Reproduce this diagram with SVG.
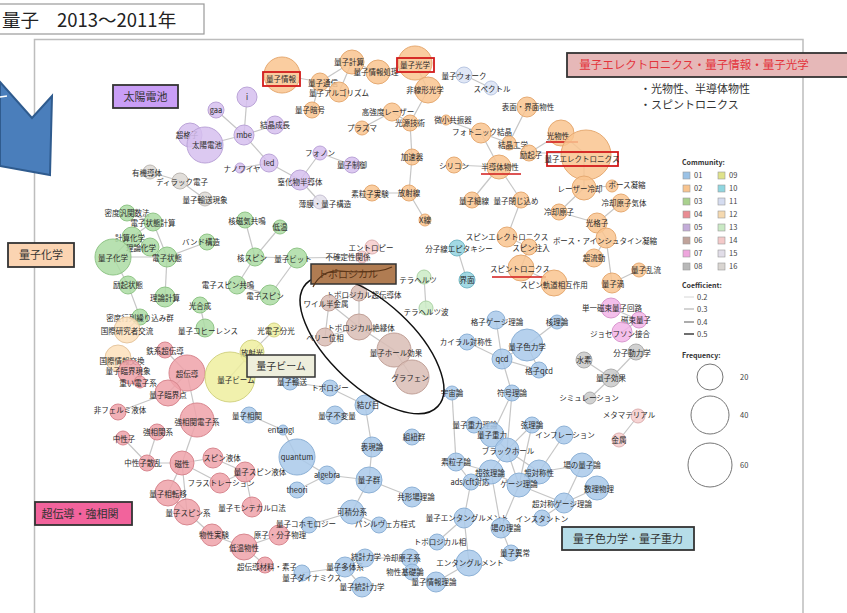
<svg xmlns="http://www.w3.org/2000/svg" width="847" height="613" viewBox="0 0 847 613">
<style>
.e{stroke:#c6c6c6;stroke-width:1.2;fill:none}
circle{stroke-width:1;fill-opacity:.85}
.c1{fill:#a9c9ea;stroke:#8db1d6}
.c2{fill:#f9c48f;stroke:#e6aa72}
.c3{fill:#acdca3;stroke:#90c587}
.c4{fill:#eea2a9;stroke:#d8878f}
.c5{fill:#d6c0ef;stroke:#bba4d8}
.c6{fill:#d9bdb5;stroke:#c1a198}
.c7{fill:#f2b4e8;stroke:#d998cf}
.c8{fill:#c9c9c9;stroke:#adadad}
.c9{fill:#eeee9f;stroke:#d3d383}
.c10{fill:#92d2df;stroke:#76b8c6}
.c11{fill:#dbe3f5;stroke:#b9c6e2}
.c12{fill:#fde0bb;stroke:#e6c69f}
.c13{fill:#cbebc5;stroke:#add3a6}
.c14{fill:#f6cccc;stroke:#ddb0b0}
.c15{fill:#e3dfeb;stroke:#c7c1d3}
.c16{fill:#dcd8d4;stroke:#bdb8b3}
text{font-family:"Noto Sans CJK JP","Noto Sans",sans-serif}
.l{font-size:7.5px;fill:#2a2a2a;text-anchor:middle}
.bx{stroke:#333;stroke-width:1.8}
.bt{font-size:11px;fill:#333;text-anchor:middle}
.rb{fill:none;stroke:#d21b1b;stroke-width:1.8}
.ru{stroke:#d21b1b;stroke-width:1.6}
.lg{font-size:7.5px;fill:#444}
.sq{stroke:#999;stroke-width:.6}
</style>
<rect width="847" height="613" fill="#fff"/>
<!-- frame -->
<path d="M34.5,613 V39.5 H803 V613" fill="none" stroke="#bdbdbd" stroke-width="1.5"/>
<rect x="-2" y="4" width="206" height="30" fill="#fff" stroke="#9a9a9a" stroke-width="1.2"/>
<text x="2" y="27" style="font-size:18.5px;fill:#222">量子</text>
<text x="57" y="27" style="font-size:18.5px;fill:#222">2013〜2011年</text>
<!-- blue arrow -->
<polygon points="0,82 32,118 52,96 50,175 0,166" fill="#4a7ebb" stroke="#2f5b8e" stroke-width="2"/>
<line x1="0" y1="97" x2="7" y2="96" stroke="#fff" stroke-width="1.5"/>

<g id="connectors">
<line class="e" x1="282" y1="75" x2="320" y2="82"/>
<line class="e" x1="320" y1="82" x2="352" y2="62"/>
<line class="e" x1="352" y1="62" x2="339" y2="92"/>
<line class="e" x1="320" y1="82" x2="339" y2="92"/>
<line class="e" x1="352" y1="62" x2="378" y2="72"/>
<line class="e" x1="378" y1="72" x2="415" y2="63"/>
<line class="e" x1="320" y1="82" x2="312" y2="110"/>
<line class="e" x1="415" y1="63" x2="428" y2="90"/>
<line class="e" x1="428" y1="90" x2="410" y2="123"/>
<line class="e" x1="392" y1="112" x2="410" y2="123"/>
<line class="e" x1="392" y1="112" x2="362" y2="128"/>
<line class="e" x1="410" y1="123" x2="412" y2="157"/>
<line class="e" x1="412" y1="157" x2="409" y2="193"/>
<line class="e" x1="409" y1="193" x2="372" y2="193"/>
<line class="e" x1="409" y1="193" x2="425" y2="220"/>
<line class="e" x1="446" y1="120" x2="481" y2="133"/>
<line class="e" x1="481" y1="133" x2="509" y2="143"/>
<line class="e" x1="481" y1="133" x2="499" y2="167"/>
<line class="e" x1="509" y1="143" x2="527" y2="107"/>
<line class="e" x1="509" y1="143" x2="529" y2="153"/>
<line class="e" x1="529" y1="153" x2="561" y2="133"/>
<line class="e" x1="561" y1="133" x2="584" y2="153"/>
<line class="e" x1="529" y1="153" x2="584" y2="153"/>
<line class="e" x1="454" y1="165" x2="499" y2="167"/>
<line class="e" x1="499" y1="167" x2="472" y2="200"/>
<line class="e" x1="499" y1="167" x2="521" y2="200"/>
<line class="e" x1="521" y1="200" x2="507" y2="237"/>
<line class="e" x1="507" y1="237" x2="529" y2="247"/>
<line class="e" x1="529" y1="247" x2="521" y2="268"/>
<line class="e" x1="521" y1="268" x2="554" y2="283"/>
<line class="e" x1="584" y1="153" x2="584" y2="188"/>
<line class="e" x1="584" y1="188" x2="559" y2="212"/>
<line class="e" x1="584" y1="188" x2="612" y2="186"/>
<line class="e" x1="621" y1="203" x2="597" y2="223"/>
<line class="e" x1="559" y1="212" x2="597" y2="223"/>
<line class="e" x1="597" y1="223" x2="606" y2="238"/>
<line class="e" x1="606" y1="238" x2="594" y2="258"/>
<line class="e" x1="606" y1="238" x2="612" y2="283"/>
<line class="e" x1="612" y1="283" x2="639" y2="270"/>
<line class="e" x1="464" y1="75" x2="491" y2="88"/>
<line class="e" x1="457" y1="248" x2="467" y2="280"/>
<line class="e" x1="424" y1="277" x2="426" y2="308"/>
<line class="e" x1="127" y1="213" x2="153" y2="222"/>
<line class="e" x1="153" y1="222" x2="167" y2="257"/>
<line class="e" x1="132" y1="237" x2="113" y2="257"/>
<line class="e" x1="150" y1="247" x2="113" y2="257"/>
<line class="e" x1="132" y1="237" x2="150" y2="247"/>
<line class="e" x1="113" y1="257" x2="167" y2="257"/>
<line class="e" x1="167" y1="257" x2="207" y2="242"/>
<line class="e" x1="153" y1="222" x2="132" y2="237"/>
<line class="e" x1="113" y1="257" x2="128" y2="285"/>
<line class="e" x1="128" y1="285" x2="140" y2="317"/>
<line class="e" x1="165" y1="297" x2="167" y2="257"/>
<line class="e" x1="140" y1="317" x2="127" y2="330"/>
<line class="e" x1="245" y1="220" x2="255" y2="257"/>
<line class="e" x1="280" y1="227" x2="255" y2="257"/>
<line class="e" x1="255" y1="257" x2="297" y2="258"/>
<line class="e" x1="255" y1="257" x2="237" y2="285"/>
<line class="e" x1="297" y1="258" x2="270" y2="295"/>
<line class="e" x1="237" y1="285" x2="270" y2="295"/>
<line class="e" x1="297" y1="258" x2="362" y2="257"/>
<line class="e" x1="205" y1="328" x2="200" y2="305"/>
<line class="e" x1="216" y1="110" x2="244" y2="135"/>
<line class="e" x1="247" y1="97" x2="244" y2="135"/>
<line class="e" x1="205" y1="145" x2="244" y2="135"/>
<line class="e" x1="190" y1="135" x2="205" y2="145"/>
<line class="e" x1="244" y1="135" x2="275" y2="125"/>
<line class="e" x1="244" y1="135" x2="269" y2="163"/>
<line class="e" x1="240" y1="168" x2="269" y2="163"/>
<line class="e" x1="269" y1="163" x2="300" y2="180"/>
<line class="e" x1="300" y1="180" x2="320" y2="153"/>
<line class="e" x1="320" y1="153" x2="352" y2="165"/>
<line class="e" x1="300" y1="180" x2="320" y2="202"/>
<line class="e" x1="150" y1="172" x2="180" y2="181"/>
<line class="e" x1="180" y1="181" x2="205" y2="199"/>
<line class="e" x1="165" y1="350" x2="187" y2="373"/>
<line class="e" x1="130" y1="372" x2="118" y2="358"/>
<line class="e" x1="130" y1="372" x2="140" y2="382"/>
<line class="e" x1="187" y1="373" x2="168" y2="393"/>
<line class="e" x1="168" y1="393" x2="118" y2="412"/>
<line class="e" x1="187" y1="373" x2="197" y2="420"/>
<line class="e" x1="197" y1="420" x2="182" y2="463"/>
<line class="e" x1="157" y1="432" x2="147" y2="463"/>
<line class="e" x1="123" y1="438" x2="147" y2="463"/>
<line class="e" x1="147" y1="463" x2="182" y2="463"/>
<line class="e" x1="182" y1="463" x2="168" y2="493"/>
<line class="e" x1="182" y1="463" x2="187" y2="512"/>
<line class="e" x1="182" y1="463" x2="213" y2="458"/>
<line class="e" x1="168" y1="493" x2="187" y2="512"/>
<line class="e" x1="213" y1="458" x2="245" y2="472"/>
<line class="e" x1="220" y1="483" x2="245" y2="472"/>
<line class="e" x1="245" y1="472" x2="252" y2="507"/>
<line class="e" x1="187" y1="512" x2="212" y2="535"/>
<line class="e" x1="212" y1="535" x2="244" y2="547"/>
<line class="e" x1="244" y1="547" x2="279" y2="535"/>
<line class="e" x1="244" y1="547" x2="265" y2="565"/>
<line class="e" x1="182" y1="463" x2="220" y2="483"/>
<line class="e" x1="249" y1="415" x2="283" y2="430"/>
<line class="e" x1="283" y1="430" x2="297" y2="457"/>
<line class="e" x1="297" y1="457" x2="327" y2="475"/>
<line class="e" x1="327" y1="475" x2="369" y2="480"/>
<line class="e" x1="327" y1="475" x2="297" y2="490"/>
<line class="e" x1="369" y1="480" x2="372" y2="447"/>
<line class="e" x1="372" y1="447" x2="365" y2="405"/>
<line class="e" x1="365" y1="405" x2="330" y2="388"/>
<line class="e" x1="330" y1="388" x2="290" y2="382"/>
<line class="e" x1="369" y1="480" x2="412" y2="497"/>
<line class="e" x1="369" y1="480" x2="352" y2="512"/>
<line class="e" x1="352" y1="512" x2="379" y2="525"/>
<line class="e" x1="352" y1="512" x2="309" y2="525"/>
<line class="e" x1="345" y1="567" x2="365" y2="558"/>
<line class="e" x1="345" y1="567" x2="302" y2="573"/>
<line class="e" x1="345" y1="567" x2="362" y2="587"/>
<line class="e" x1="365" y1="558" x2="410" y2="558"/>
<line class="e" x1="410" y1="558" x2="412" y2="572"/>
<line class="e" x1="496" y1="320" x2="502" y2="359"/>
<line class="e" x1="467" y1="342" x2="502" y2="359"/>
<line class="e" x1="502" y1="359" x2="527" y2="345"/>
<line class="e" x1="527" y1="345" x2="539" y2="370"/>
<line class="e" x1="527" y1="345" x2="557" y2="322"/>
<line class="e" x1="502" y1="359" x2="539" y2="370"/>
<line class="e" x1="502" y1="359" x2="512" y2="393"/>
<line class="e" x1="512" y1="393" x2="507" y2="450"/>
<line class="e" x1="512" y1="393" x2="492" y2="435"/>
<line class="e" x1="452" y1="393" x2="456" y2="462"/>
<line class="e" x1="474" y1="425" x2="492" y2="435"/>
<line class="e" x1="492" y1="435" x2="507" y2="450"/>
<line class="e" x1="532" y1="425" x2="507" y2="450"/>
<line class="e" x1="532" y1="425" x2="519" y2="485"/>
<line class="e" x1="564" y1="435" x2="539" y2="472"/>
<line class="e" x1="507" y1="450" x2="491" y2="472"/>
<line class="e" x1="507" y1="450" x2="539" y2="472"/>
<line class="e" x1="507" y1="450" x2="519" y2="485"/>
<line class="e" x1="456" y1="462" x2="491" y2="472"/>
<line class="e" x1="456" y1="462" x2="471" y2="482"/>
<line class="e" x1="491" y1="472" x2="519" y2="485"/>
<line class="e" x1="491" y1="472" x2="471" y2="482"/>
<line class="e" x1="539" y1="472" x2="519" y2="485"/>
<line class="e" x1="539" y1="472" x2="582" y2="465"/>
<line class="e" x1="519" y1="485" x2="564" y2="503"/>
<line class="e" x1="564" y1="503" x2="542" y2="518"/>
<line class="e" x1="597" y1="488" x2="564" y2="503"/>
<line class="e" x1="471" y1="482" x2="464" y2="518"/>
<line class="e" x1="519" y1="485" x2="501" y2="528"/>
<line class="e" x1="501" y1="528" x2="511" y2="553"/>
<line class="e" x1="464" y1="518" x2="469" y2="563"/>
<line class="e" x1="469" y1="563" x2="436" y2="582"/>
<line class="e" x1="437" y1="542" x2="464" y2="518"/>
<line class="e" x1="491" y1="472" x2="501" y2="528"/>
<line class="e" x1="582" y1="465" x2="564" y2="503"/>
<line class="e" x1="584" y1="360" x2="611" y2="378"/>
<line class="e" x1="636" y1="352" x2="611" y2="378"/>
<line class="e" x1="611" y1="378" x2="590" y2="398"/>
<line class="e" x1="611" y1="308" x2="639" y2="320"/>
<line class="e" x1="639" y1="320" x2="622" y2="332"/>
<line class="e" x1="638" y1="416" x2="619" y2="440"/>
<line class="e" x1="359" y1="293" x2="329" y2="303"/>
<line class="e" x1="359" y1="293" x2="359" y2="327"/>
<line class="e" x1="329" y1="303" x2="359" y2="327"/>
<line class="e" x1="329" y1="303" x2="325" y2="337"/>
<line class="e" x1="359" y1="327" x2="325" y2="337"/>
<line class="e" x1="359" y1="327" x2="394" y2="350"/>
<line class="e" x1="394" y1="350" x2="412" y2="377"/>
<line class="e" x1="274" y1="330" x2="252" y2="352"/>
<line class="e" x1="252" y1="352" x2="230" y2="377"/>
</g>

<!-- orange -->
<g id="n_qinfo"><circle class="c2" cx="282" cy="75" r="18"/><text class="l" x="281" y="82">量子情報</text><rect class="rb" x="263" y="72" width="37" height="14"/></g>
<g id="n_qcalc"><circle class="c2" cx="352" cy="62" r="12"/><text class="l" x="349" y="65">量子計算</text></g>
<g id="n_qip"><circle class="c2" cx="378" cy="72" r="12"/><text class="l" x="376" y="75">量子情報処理</text></g>
<g id="n_qopt"><circle class="c2" cx="415" cy="63" r="17"/><text class="l" x="415" y="68">量子光学</text><rect class="rb" x="397" y="58" width="37" height="14"/></g>
<g id="n_qcomm"><circle class="c2" cx="320" cy="82" r="9"/><text class="l" x="323" y="86">量子通信</text></g>
<g id="n_qalg"><circle class="c2" cx="339" cy="92" r="10"/><text class="l" x="339" y="96">量子アルゴリズム</text></g>
<g id="n_nlo"><circle class="c2" cx="428" cy="90" r="13"/><text class="l" x="425" y="93">非線形光学</text></g>
<g id="n_qcrypt"><circle class="c2" cx="312" cy="110" r="8"/><text class="l" x="310" y="113">量子暗号</text></g>
<g id="n_hil"><circle class="c2" cx="392" cy="112" r="9"/><text class="l" x="388" y="115">高強度レーザー</text></g>
<g id="n_ls"><circle class="c2" cx="410" cy="123" r="8"/><text class="l" x="410" y="126">光源技術</text></g>
<g id="n_mc"><circle class="c2" cx="446" cy="120" r="5"/><text class="l" x="453" y="123">微小共振器</text></g>
<g id="n_plasma"><circle class="c2" cx="362" cy="128" r="7"/><text class="l" x="362" y="131">プラズマ</text></g>
<g id="n_pc"><circle class="c2" cx="481" cy="133" r="10"/><text class="l" x="482" y="135">フォトニック結晶</text></g>
<g id="n_ce"><circle class="c2" cx="509" cy="143" r="7"/><text class="l" x="513" y="148">結晶工学</text></g>
<g id="n_sif"><circle class="c2" cx="527" cy="107" r="10"/><text class="l" x="528" y="110">表面・界面物性</text></g>
<g id="n_qwalk"><circle class="c11" cx="464" cy="75" r="8"/><text class="l" x="464" y="79">量子ウォーク</text></g>
<g id="n_spec"><circle class="c11" cx="491" cy="88" r="7"/><text class="l" x="492" y="92">スペクトル</text></g>
<g id="n_opt"><circle class="c2" cx="561" cy="133" r="13"/><text class="l" x="558" y="139">光物性</text><line class="ru" x1="546" y1="142" x2="578" y2="142"/></g>
<g id="n_qe"><circle class="c2" cx="586" cy="155" r="25"/><rect x="547" y="152" width="71" height="14" fill="#fff" fill-opacity=".5" class="rb"/><text class="l" x="582" y="162">量子エレクトロニクス</text></g>
<g id="n_exc"><circle class="c2" cx="529" cy="153" r="8"/><text class="l" x="531" y="158">励起子</text></g>
<g id="n_acc"><circle class="c2" cx="412" cy="157" r="8"/><text class="l" x="412" y="160">加速器</text></g>
<g id="n_si"><circle class="c2" cx="454" cy="165" r="8"/><text class="l" x="454" y="169">シリコン</text></g>
<g id="n_semi"><circle class="c2" cx="499" cy="167" r="12"/><text class="l" x="500" y="170">半導体物性</text><line class="ru" x1="481" y1="174" x2="521" y2="174"/></g>
<g id="n_lc"><circle class="c2" cx="584" cy="188" r="12"/><text class="l" x="580" y="192">レーザー冷却</text></g>
<g id="n_bose"><circle class="c2" cx="612" cy="186" r="6"/><text class="l" x="627" y="188">ボース凝縮</text></g>
<g id="n_cag"><circle class="c2" cx="621" cy="203" r="9"/><text class="l" x="624" y="206">冷却原子気体</text></g>
<g id="n_qw"><circle class="c2" cx="472" cy="200" r="8"/><text class="l" x="474" y="204">量子細線</text></g>
<g id="n_qconf"><circle class="c2" cx="521" cy="200" r="8"/><text class="l" x="516" y="204">量子閉じ込め</text></g>
<g id="n_rad"><circle class="c2" cx="409" cy="193" r="8"/><text class="l" x="409" y="196">放射線</text></g>
<g id="n_pexp"><circle class="c2" cx="372" cy="193" r="8"/><text class="l" x="370" y="197">素粒子実験</text></g>
<g id="n_xray"><circle class="c2" cx="425" cy="220" r="6"/><text class="l" x="425" y="223">X線</text></g>
<g id="n_se"><circle class="c2" cx="507" cy="237" r="10"/><text class="l" x="507" y="240">スピンエレクトロニクス</text></g>
<g id="n_sinj"><circle class="c2" cx="529" cy="247" r="8"/><text class="l" x="531" y="251">スピン注入</text></g>
<g id="n_st"><circle class="c2" cx="521" cy="268" r="13"/><text class="l" x="520" y="272">スピントロニクス</text><line class="ru" x1="492" y1="277" x2="546" y2="277"/></g>
<g id="n_soi"><circle class="c2" cx="554" cy="283" r="13"/><text class="l" x="554" y="288">スピン軌道相互作用</text></g>
<g id="n_ca"><circle class="c2" cx="559" cy="212" r="8"/><text class="l" x="559" y="215">冷却原子</text></g>
<g id="n_ol"><circle class="c2" cx="597" cy="223" r="10"/><text class="l" x="597" y="226">光格子</text></g>
<g id="n_bec"><circle class="c2" cx="606" cy="238" r="10"/><text class="l" x="605" y="244">ボース・アインシュタイン凝縮</text></g>
<g id="n_sf"><circle class="c2" cx="594" cy="258" r="9"/><text class="l" x="594" y="261">超流動</text></g>
<g id="n_qv"><circle class="c2" cx="612" cy="283" r="10"/><text class="l" x="613" y="287">量子渦</text></g>
<g id="n_qturb"><circle class="c2" cx="639" cy="270" r="7"/><text class="l" x="646" y="273">量子乱流</text></g>
<!-- teal / light green -->
<g id="n_mbe2"><circle class="c10" cx="457" cy="248" r="8"/><text class="l" x="459" y="252">分子線エピタキシー</text></g>
<g id="n_intf"><circle class="c10" cx="467" cy="280" r="8"/><text class="l" x="467" y="283">界面</text></g>
<g id="n_thz"><circle class="c13" cx="424" cy="277" r="7"/><text class="l" x="418" y="283">テラヘルツ</text></g>
<g id="n_thzw"><circle class="c13" cx="426" cy="308" r="7"/><text class="l" x="426" y="315">テラヘルツ波</text></g>
<!-- green -->
<g id="n_dft"><circle class="c3" cx="127" cy="213" r="8"/><text class="l" x="127" y="216">密度汎関数法</text></g>
<g id="n_esc"><circle class="c3" cx="153" cy="222" r="9"/><text class="l" x="153" y="226">電子状態計算</text></g>
<g id="n_cc"><circle class="c3" cx="132" cy="237" r="10"/><text class="l" x="130" y="241">計算化学</text></g>
<g id="n_tc"><circle class="c3" cx="150" cy="247" r="9"/><text class="l" x="141" y="251">理論化学</text></g>
<g id="n_qchem"><circle class="c3" cx="113" cy="257" r="18"/><text class="l" x="113" y="261">量子化学</text></g>
<g id="n_es"><circle class="c3" cx="167" cy="257" r="10"/><text class="l" x="167" y="261">電子状態</text></g>
<g id="n_band"><circle class="c3" cx="207" cy="242" r="8"/><text class="l" x="201" y="245">バンド構造</text></g>
<g id="n_exst"><circle class="c3" cx="128" cy="285" r="9"/><text class="l" x="128" y="288">励起状態</text></g>
<g id="n_tcalc"><circle class="c3" cx="165" cy="297" r="10"/><text class="l" x="165" y="301">理論計算</text></g>
<g id="n_photo"><circle class="c3" cx="200" cy="305" r="8"/><text class="l" x="200" y="309">光合成</text></g>
<g id="n_dmrg"><circle class="c3" cx="140" cy="317" r="8"/><text class="l" x="140" y="321">密度行列繰り込み群</text></g>
<g id="n_nmr"><circle class="c3" cx="245" cy="220" r="8"/><text class="l" x="247" y="224">核磁気共鳴</text></g>
<g id="n_lowt"><circle class="c3" cx="280" cy="227" r="7"/><text class="l" x="280" y="230">低温</text></g>
<g id="n_ns"><circle class="c3" cx="255" cy="257" r="9"/><text class="l" x="252" y="261">核スピン</text></g>
<g id="n_qbit"><circle class="c3" cx="297" cy="258" r="10"/><text class="l" x="293" y="262">量子ビット</text></g>
<g id="n_esr"><circle class="c3" cx="237" cy="285" r="9"/><text class="l" x="228" y="288">電子スピン共鳴</text></g>
<g id="n_espin"><circle class="c3" cx="270" cy="295" r="10"/><text class="l" x="265" y="299">電子スピン</text></g>
<g id="n_qcoh"><circle class="c3" cx="205" cy="328" r="9"/><text class="l" x="208" y="334">量子コヒーレンス</text></g>
<!-- beige -->
<g id="n_ire"><circle class="c12" cx="127" cy="330" r="13"/><text class="l" x="127" y="334">国際研究者交流</text></g>
<g id="n_iie"><circle class="c12" cx="118" cy="358" r="13"/><text class="l" x="122" y="364">国際情報交換</text></g>
<!-- pink / red -->
<g id="n_fesc"><circle class="c4" cx="165" cy="350" r="8"/><text class="l" x="165" y="354">鉄系超伝導</text></g>
<g id="n_sc"><circle class="c4" cx="187" cy="373" r="18"/><text class="l" x="187" y="377">超伝導</text></g>
<g id="n_qcp"><circle class="c4" cx="130" cy="372" r="12"/><text class="l" x="128" y="374">量子臨界現象</text></g>
<g id="n_hf"><circle class="c4" cx="140" cy="382" r="6"/><text class="l" x="138" y="386">重い電子系</text></g>
<g id="n_qcpt"><circle class="c4" cx="168" cy="393" r="13"/><text class="l" x="168" y="398">量子臨界点</text></g>
<g id="n_nfl"><circle class="c4" cx="118" cy="412" r="8"/><text class="l" x="120" y="413">非フェルミ液体</text></g>
<g id="n_sces"><circle class="c4" cx="197" cy="420" r="17"/><text class="l" x="197" y="425">強相関電子系</text></g>
<g id="n_scs"><circle class="c4" cx="157" cy="432" r="8"/><text class="l" x="158" y="435">強相関系</text></g>
<g id="n_neu"><circle class="c4" cx="123" cy="438" r="7"/><text class="l" x="124" y="442">中性子</text></g>
<g id="n_ns2"><circle class="c4" cx="147" cy="463" r="8"/><text class="l" x="143" y="466">中性子散乱</text></g>
<g id="n_mag"><circle class="c4" cx="182" cy="463" r="12"/><text class="l" x="182" y="467">磁性</text></g>
<g id="n_sl2"><circle class="c4" cx="213" cy="458" r="10"/><text class="l" x="222" y="461">スピン液体</text></g>
<g id="n_frus"><circle class="c4" cx="220" cy="483" r="10"/><text class="l" x="221" y="486">フラストレーション</text></g>
<g id="n_qsl"><circle class="c4" cx="245" cy="472" r="10"/><text class="l" x="260" y="475">量子スピン液体</text></g>
<g id="n_qpt"><circle class="c4" cx="168" cy="493" r="13"/><text class="l" x="168" y="497">量子相転移</text></g>
<g id="n_qss"><circle class="c4" cx="187" cy="512" r="13"/><text class="l" x="188" y="516">量子スピン系</text></g>
<g id="n_qmc"><circle class="c4" cx="252" cy="507" r="10"/><text class="l" x="252" y="511">量子モンテカルロ法</text></g>
<g id="n_pexp2"><circle class="c4" cx="212" cy="535" r="11"/><text class="l" x="214" y="538">物性実験</text></g>
<g id="n_amo"><circle class="c4" cx="279" cy="535" r="10"/><text class="l" x="280" y="538">原子・分子物理</text></g>
<g id="n_ltp"><circle class="c4" cx="244" cy="547" r="13"/><text class="l" x="244" y="551">低温物性</text></g>
<g id="n_scm"><circle class="c4" cx="265" cy="565" r="8"/><text class="l" x="267" y="570">超伝導材料・素子</text></g>
<!-- blue -->
<g id="n_qcorr"><circle class="c1" cx="249" cy="415" r="8"/><text class="l" x="247" y="419">量子相関</text></g>
<g id="n_qinv"><circle class="c1" cx="335" cy="415" r="9"/><text class="l" x="337" y="419">量子不変量</text></g>
<g id="n_ent"><circle class="c1" cx="283" cy="430" r="5"/><text class="l" x="281" y="433">entangl</text></g>
<g id="n_quantum"><circle class="c1" cx="297" cy="457" r="18"/><text class="l" x="297" y="460">quantum</text></g>
<g id="n_rep"><circle class="c1" cx="372" cy="447" r="10"/><text class="l" x="372" y="450">表現論</text></g>
<g id="n_braid"><circle class="c1" cx="412" cy="437" r="8"/><text class="l" x="414" y="440">組紐群</text></g>
<g id="n_qg"><circle class="c1" cx="369" cy="480" r="13"/><text class="l" x="369" y="483">量子群</text></g>
<g id="n_alg"><circle class="c1" cx="327" cy="475" r="9"/><text class="l" x="327" y="478">algebra</text></g>
<g id="n_theo"><circle class="c1" cx="297" cy="490" r="8"/><text class="l" x="297" y="493">theori</text></g>
<g id="n_cft"><circle class="c1" cx="412" cy="497" r="10"/><text class="l" x="416" y="500">共形場理論</text></g>
<g id="n_int"><circle class="c1" cx="352" cy="512" r="12"/><text class="l" x="352" y="515">可積分系</text></g>
<g id="n_pain"><circle class="c1" cx="379" cy="525" r="8"/><text class="l" x="385" y="527">パンルヴェ方程式</text></g>
<g id="n_qcoho"><circle class="c1" cx="309" cy="525" r="8"/><text class="l" x="306" y="527">量子コホモロジー</text></g>
<g id="n_qdyn"><circle class="c1" cx="302" cy="573" r="8"/><text class="l" x="312" y="581">量子ダイナミクス</text></g>
<g id="n_qmb"><circle class="c1" cx="345" cy="567" r="10"/><text class="l" x="345" y="570">量子多体系</text></g>
<g id="n_sm"><circle class="c1" cx="365" cy="558" r="9"/><text class="l" x="366" y="560">統計力学</text></g>
<g id="n_cas"><circle class="c1" cx="410" cy="558" r="9"/><text class="l" x="402" y="561">冷却原子系</text></g>
<g id="n_bcm"><circle class="c1" cx="412" cy="572" r="8"/><text class="l" x="405" y="575">物性基礎論</text></g>
<g id="n_qsm"><circle class="c1" cx="362" cy="587" r="10"/><text class="l" x="362" y="590">量子統計力学</text></g>
<g id="n_qtr"><circle class="c1" cx="290" cy="382" r="8"/><text class="l" x="292" y="385">量子輸送</text></g>
<g id="n_topo"><circle class="c1" cx="330" cy="388" r="8"/><text class="l" x="330" y="391">トポロジー</text></g>
<g id="n_knot"><circle class="c1" cx="365" cy="405" r="10"/><text class="l" x="368" y="408">結び目</text></g>
<g id="n_lgt"><circle class="c1" cx="496" cy="320" r="9"/><text class="l" x="497" y="325">格子ゲージ理論</text></g>
<g id="n_nt"><circle class="c1" cx="557" cy="322" r="7"/><text class="l" x="557" y="325">核理論</text></g>
<g id="n_chi"><circle class="c1" cx="467" cy="342" r="8"/><text class="l" x="466" y="345">カイラル対称性</text></g>
<g id="n_qcd2"><circle class="c1" cx="527" cy="345" r="16"/><text class="l" x="527" y="350">量子色力学</text></g>
<g id="n_qcd"><circle class="c1" cx="502" cy="359" r="10"/><text class="l" x="502" y="362">qcd</text></g>
<g id="n_lqcd"><circle class="c1" cx="539" cy="370" r="8"/><text class="l" x="539" y="374">格子qcd</text></g>
<g id="n_cos"><circle class="c1" cx="452" cy="393" r="7"/><text class="l" x="452" y="396">宇宙論</text></g>
<g id="n_code"><circle class="c1" cx="512" cy="393" r="8"/><text class="l" x="512" y="396">符号理論</text></g>
<g id="n_qgt"><circle class="c1" cx="474" cy="425" r="8"/><text class="l" x="475" y="428">量子重力理論</text></g>
<g id="n_str"><circle class="c1" cx="532" cy="425" r="8"/><text class="l" x="532" y="428">弦理論</text></g>
<g id="n_qgr"><circle class="c1" cx="492" cy="435" r="12"/><text class="l" x="492" y="438">量子重力</text></g>
<g id="n_infl"><circle class="c1" cx="564" cy="435" r="9"/><text class="l" x="565" y="438">インフレーション</text></g>
<g id="n_bh"><circle class="c1" cx="507" cy="450" r="12"/><text class="l" x="508" y="454">ブラックホール</text></g>
<g id="n_pp"><circle class="c1" cx="456" cy="462" r="9"/><text class="l" x="456" y="465">素粒子論</text></g>
<g id="n_qft"><circle class="c1" cx="582" cy="465" r="12"/><text class="l" x="582" y="468">場の量子論</text></g>
<g id="n_sst"><circle class="c1" cx="491" cy="472" r="12"/><text class="l" x="490" y="476">超弦理論</text></g>
<g id="n_susy"><circle class="c1" cx="539" cy="472" r="12"/><text class="l" x="539" y="476">超対称性</text></g>
<g id="n_ads"><circle class="c1" cx="471" cy="482" r="8"/><text class="l" x="470" y="485">ads/cft対応</text></g>
<g id="n_gt"><circle class="c1" cx="519" cy="485" r="12"/><text class="l" x="519" y="487">ゲージ理論</text></g>
<g id="n_mp"><circle class="c1" cx="597" cy="488" r="12"/><text class="l" x="599" y="492">数理物理</text></g>
<g id="n_sgt"><circle class="c1" cx="564" cy="503" r="10"/><text class="l" x="562" y="507">超対称ゲージ理論</text></g>
<g id="n_inst"><circle class="c1" cx="542" cy="518" r="8"/><text class="l" x="542" y="522">インスタントン</text></g>
<g id="n_qent"><circle class="c1" cx="464" cy="518" r="10"/><text class="l" x="467" y="521">量子エンタングルメント</text></g>
<g id="n_ft"><circle class="c1" cx="501" cy="528" r="10"/><text class="l" x="506" y="531">場の理論</text></g>
<g id="n_tph"><circle class="c1" cx="437" cy="542" r="8"/><text class="l" x="440" y="545">トポロジカル相</text></g>
<g id="n_qan"><circle class="c1" cx="511" cy="553" r="8"/><text class="l" x="515" y="556">量子異常</text></g>
<g id="n_entg"><circle class="c1" cx="469" cy="563" r="13"/><text class="l" x="470" y="566">エンタングルメント</text></g>
<g id="n_qit"><circle class="c1" cx="436" cy="582" r="10"/><text class="l" x="434" y="585">量子情報理論</text></g>
<!-- gray -->
<g id="n_h"><circle class="c8" cx="584" cy="360" r="8"/><text class="l" x="584" y="363">水素</text></g>
<g id="n_md"><circle class="c8" cx="636" cy="352" r="8"/><text class="l" x="632" y="356">分子動力学</text></g>
<g id="n_qeff"><circle class="c8" cx="611" cy="378" r="9"/><text class="l" x="611" y="381">量子効果</text></g>
<g id="n_sim"><circle class="c8" cx="590" cy="398" r="6"/><text class="l" x="589" y="401">シミュレーション</text></g>
<!-- magenta -->
<g id="n_sfq"><circle class="c7" cx="611" cy="308" r="10"/><text class="l" x="612" y="311">単一磁束量子回路</text></g>
<g id="n_fq"><circle class="c7" cx="639" cy="320" r="8"/><text class="l" x="636" y="323">磁束量子</text></g>
<g id="n_jj"><circle class="c7" cx="622" cy="332" r="10"/><text class="l" x="620" y="337">ジョセフソン接合</text></g>
<!-- light pink -->
<g id="n_entr"><circle class="c14" cx="372" cy="247" r="7"/><text class="l" x="371" y="251">エントロピー</text></g>
<g id="n_unc"><circle class="c14" cx="362" cy="257" r="6"/><text class="l" x="348" y="260">不確定性関係</text></g>
<g id="n_meta"><circle class="c14" cx="638" cy="416" r="7"/><text class="l" x="629" y="418">メタマテリアル</text></g>
<g id="n_metal"><circle class="c14" cx="619" cy="440" r="7"/><text class="l" x="619" y="443">金属</text></g>
<!-- brown -->
<g id="n_tsc"><circle class="c6" cx="359" cy="293" r="8"/><text class="l" x="364" y="298">トポロジカル超伝導体</text></g>
<g id="n_weyl"><circle class="c6" cx="329" cy="303" r="8"/><text class="l" x="326" y="307">ワイル半金属</text></g>
<g id="n_ti"><circle class="c6" cx="359" cy="327" r="13"/><text class="l" x="361" y="331">トポロジカル絶縁体</text></g>
<g id="n_berry"><circle class="c6" cx="325" cy="337" r="9"/><text class="l" x="325" y="341">ベリー位相</text></g>
<g id="n_qhe"><circle class="c6" cx="394" cy="350" r="17"/><text class="l" x="396" y="356">量子ホール効果</text></g>
<g id="n_gr"><circle class="c6" cx="412" cy="377" r="17"/><text class="l" x="410" y="381">グラフェン</text></g>
<!-- yellow -->
<g id="n_pes"><circle class="c9" cx="274" cy="330" r="7"/><text class="l" x="276" y="334">光電子分光</text></g>
<g id="n_sr"><circle class="c9" cx="252" cy="352" r="12"/><text class="l" x="252" y="356">放射光</text></g>
<g id="n_qb"><circle class="c9" cx="230" cy="377" r="25"/><text class="l" x="236" y="383">量子ビーム</text></g>
<!-- purple -->
<g id="n_gaa"><circle class="c5" cx="216" cy="110" r="8"/><text class="l" x="216" y="113">gaa</text></g>
<g id="n_i"><circle class="c5" cx="247" cy="97" r="10"/><text class="l" x="247" y="100">i</text></g>
<g id="n_sl"><circle class="c5" cx="190" cy="135" r="12"/><text class="l" x="187" y="138">超格子</text></g>
<g id="n_solar"><circle class="c5" cx="205" cy="145" r="18"/><text class="l" x="207" y="148">太陽電池</text></g>
<g id="n_mbe"><circle class="c5" cx="244" cy="135" r="10"/><text class="l" x="244" y="138">mbe</text></g>
<g id="n_cg"><circle class="c5" cx="275" cy="125" r="9"/><text class="l" x="275" y="128">結晶成長</text></g>
<g id="n_nw"><circle class="c5" cx="240" cy="168" r="5"/><text class="l" x="242" y="172">ナノワイヤ</text></g>
<g id="n_led"><circle class="c5" cx="269" cy="163" r="9"/><text class="l" x="269" y="166">led</text></g>
<g id="n_phonon"><circle class="c5" cx="320" cy="153" r="7"/><text class="l" x="320" y="156">フォノン</text></g>
<g id="n_qctrl"><circle class="c5" cx="352" cy="165" r="8"/><text class="l" x="352" y="168">量子制御</text></g>
<g id="n_nitr"><circle class="c5" cx="300" cy="180" r="10"/><text class="l" x="300" y="185">窒化物半導体</text></g>
<g id="n_thin"><circle class="c15" cx="320" cy="202" r="7"/><text class="l" x="325" y="207">薄膜・量子構造</text></g>
<!-- gray 16 -->
<g id="n_org"><circle class="c16" cx="150" cy="172" r="7"/><text class="l" x="147" y="176">有機導体</text></g>
<g id="n_dirac"><circle class="c16" cx="180" cy="181" r="8"/><text class="l" x="182" y="185">ディラック電子</text></g>
<g id="n_qtp"><circle class="c16" cx="205" cy="199" r="7"/><text class="l" x="205" y="203">量子輸送現象</text></g>

<!-- topological ellipse and boxes -->
<ellipse cx="372" cy="345" rx="90" ry="42" transform="rotate(43 372 345)" fill="none" stroke="#111" stroke-width="1.5"/>
<g id="b_topo"><rect x="311" y="264" width="85" height="20" fill="#b07c52" stroke="#333" stroke-width="1.5"/><text class="bt" x="348" y="278" style="font-size:10px;fill:#5a3518">トポロジカル</text><path d="M313,287 C318,276 328,270 340,271 S378,274 392,267" fill="none" stroke="#5a3518" stroke-width="1.2"/></g>
<g id="b_qbeam"><rect x="247" y="355" width="68" height="22" fill="#eeeedc" stroke="#333" stroke-width="1.5"/><text class="bt" x="281" y="370" style="font-size:10px">量子ビーム</text></g>
<g id="b_solar"><rect class="bx" x="113" y="85" width="65" height="23" fill="#c99ef6"/><text class="bt" x="145.5" y="101">太陽電池</text></g>
<g id="b_qchem"><rect class="bx" x="8" y="243" width="66" height="24" fill="#fbd4b2"/><text class="bt" x="41" y="259">量子化学</text></g>
<g id="b_sc"><rect class="bx" x="35" y="502" width="97" height="23" fill="#f2639c"/><text class="bt" x="80" y="518">超伝導・強相関</text></g>
<g id="b_qcd"><rect class="bx" x="562" y="527" width="132" height="23" fill="#b6dde8"/><text class="bt" x="628" y="543">量子色力学・量子重力</text></g>
<g id="b_qe"><rect class="bx" x="567" y="53" width="285" height="24" fill="#e6b8b8"/><text class="bt" x="694" y="69" style="font-size:11.5px;fill:#e3333b">量子エレクトロニクス・量子情報・量子光学</text></g>
<text x="640" y="93" style="font-size:11px;fill:#333">・光物性、半導体物性</text>
<text x="640" y="109" style="font-size:11px;fill:#333">・スピントロニクス</text>

<!-- legend -->
<g id="legend">
<text x="682" y="165" style="font-size:7px;font-weight:bold;fill:#333">Community:</text>
<rect class="sq" x="683" y="172" width="7" height="7" fill="#9bc2e6"/><text class="lg" x="694" y="178">01</text>
<rect class="sq" x="683" y="185" width="7" height="7" fill="#f8c48f"/><text class="lg" x="694" y="191">02</text>
<rect class="sq" x="683" y="198" width="7" height="7" fill="#a9d18e"/><text class="lg" x="694" y="204">03</text>
<rect class="sq" x="683" y="211" width="7" height="7" fill="#e98c93"/><text class="lg" x="694" y="217">04</text>
<rect class="sq" x="683" y="224" width="7" height="7" fill="#c3acd9"/><text class="lg" x="694" y="230">05</text>
<rect class="sq" x="683" y="237" width="7" height="7" fill="#c0a39a"/><text class="lg" x="694" y="243">06</text>
<rect class="sq" x="683" y="250" width="7" height="7" fill="#eea6dd"/><text class="lg" x="694" y="256">07</text>
<rect class="sq" x="683" y="263" width="7" height="7" fill="#b8b8b8"/><text class="lg" x="694" y="269">08</text>
<rect class="sq" x="718" y="172" width="7" height="7" fill="#dfe28a"/><text class="lg" x="729" y="178">09</text>
<rect class="sq" x="718" y="185" width="7" height="7" fill="#8fd6e0"/><text class="lg" x="729" y="191">10</text>
<rect class="sq" x="718" y="198" width="7" height="7" fill="#d5dcf0"/><text class="lg" x="729" y="204">11</text>
<rect class="sq" x="718" y="211" width="7" height="7" fill="#f5d9b0"/><text class="lg" x="729" y="217">12</text>
<rect class="sq" x="718" y="224" width="7" height="7" fill="#c9e9c4"/><text class="lg" x="729" y="230">13</text>
<rect class="sq" x="718" y="237" width="7" height="7" fill="#f4c9c9"/><text class="lg" x="729" y="243">14</text>
<rect class="sq" x="718" y="250" width="7" height="7" fill="#e1dde8"/><text class="lg" x="729" y="256">15</text>
<rect class="sq" x="718" y="263" width="7" height="7" fill="#d9d5d1"/><text class="lg" x="729" y="269">16</text>
<text x="682" y="288" style="font-size:7px;font-weight:bold;fill:#333">Coefficient:</text>
<line x1="684" y1="297" x2="694" y2="297" stroke="#ccc" stroke-width="0.8"/><text class="lg" x="697" y="300">0.2</text>
<line x1="684" y1="309" x2="694" y2="309" stroke="#b0b0b0" stroke-width="1.1"/><text class="lg" x="697" y="312">0.3</text>
<line x1="684" y1="322" x2="694" y2="322" stroke="#888" stroke-width="1.4"/><text class="lg" x="697" y="325">0.4</text>
<line x1="684" y1="334" x2="694" y2="334" stroke="#555" stroke-width="1.7"/><text class="lg" x="697" y="337">0.5</text>
<text x="682" y="358" style="font-size:7px;font-weight:bold;fill:#333">Frequency:</text>
<circle cx="710" cy="377" r="13" fill="none" stroke="#777" stroke-width="1"/><text class="lg" x="740" y="380">20</text>
<circle cx="710" cy="415" r="19" fill="none" stroke="#777" stroke-width="1"/><text class="lg" x="740" y="418">40</text>
<circle cx="710" cy="465" r="22" fill="none" stroke="#777" stroke-width="1"/><text class="lg" x="740" y="468">60</text>
</g>
</svg>
